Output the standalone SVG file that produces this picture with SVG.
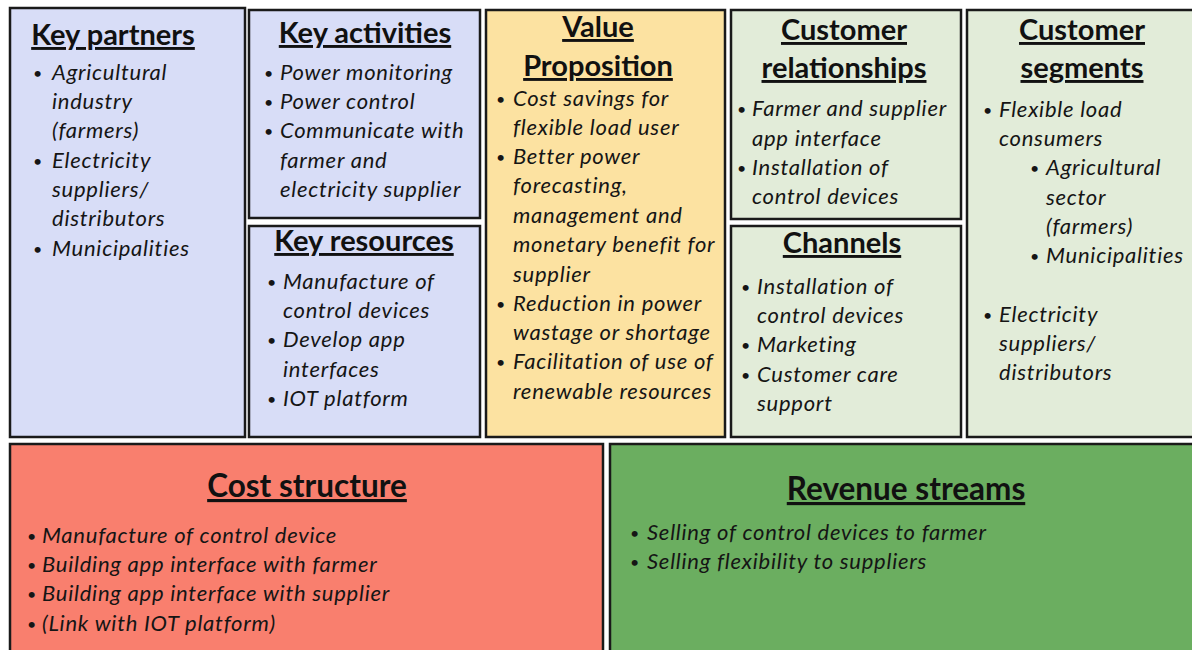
<svg xmlns="http://www.w3.org/2000/svg" width="1192" height="650" viewBox="0 0 1192 650">
  <style>
    .box { stroke: #1a1a1a; stroke-width: 2.5; }
    .blue { fill: #d8ddf7; }
    .yellow { fill: #fce2a1; }
    .lgreen { fill: #e2ecd9; }
    .red { fill: #f97f6e; }
    .green { fill: #6bae60; }
    .title { font-family: Lato, "Liberation Sans", sans-serif; font-weight: bold; font-size: 29px; fill: #111; text-anchor: middle; text-decoration: underline; }
    .big { font-size: 31.5px; }
    .item { font-family: Lato, "Liberation Sans", sans-serif; font-style: italic; font-size: 22px; letter-spacing: 0.75px; fill: #151515; }
    .dot { font-family: Lato, "Liberation Sans", sans-serif; font-size: 16px; fill: #151515; }
  </style>
  <rect width="1192" height="650" fill="#ffffff"/>

  <g id="key-partners">
    <rect class="box blue" x="10" y="8" width="235" height="429"/>
    <text class="title" x="113" y="45">Key partners</text>
    <text class="dot" x="33" y="79">•</text>
    <text class="item" x="52" y="80">Agricultural</text>
    <text class="item" x="52" y="109">industry</text>
    <text class="item" x="52" y="138">(farmers)</text>
    <text class="dot" x="33" y="167">•</text>
    <text class="item" x="52" y="168">Electricity</text>
    <text class="item" x="52" y="197">suppliers/</text>
    <text class="item" x="52" y="226">distributors</text>
    <text class="dot" x="33" y="255">•</text>
    <text class="item" x="52" y="256">Municipalities</text>
  </g>

  <g id="key-activities">
    <rect class="box blue" x="249" y="10" width="231" height="208"/>
    <text class="title" x="365" y="43">Key activities</text>
    <text class="dot" x="264" y="79">•</text>
    <text class="item" x="280" y="80">Power monitoring</text>
    <text class="dot" x="264" y="108">•</text>
    <text class="item" x="280" y="109">Power control</text>
    <text class="dot" x="264" y="137">•</text>
    <text class="item" x="280" y="138">Communicate with</text>
    <text class="item" x="280" y="168">farmer and</text>
    <text class="item" x="280" y="197">electricity supplier</text>
  </g>

  <g id="key-resources">
    <rect class="box blue" x="249" y="226" width="231" height="211"/>
    <text class="title" x="364" y="251">Key resources</text>
    <text class="dot" x="267" y="288">•</text>
    <text class="item" x="283" y="289">Manufacture of</text>
    <text class="item" x="283" y="318">control devices</text>
    <text class="dot" x="267" y="346">•</text>
    <text class="item" x="283" y="347">Develop app</text>
    <text class="item" x="283" y="377">interfaces</text>
    <text class="dot" x="267" y="405">•</text>
    <text class="item" x="283" y="406">IOT platform</text>
  </g>

  <g id="value-proposition">
    <rect class="box yellow" x="486" y="10" width="239" height="427"/>
    <text class="title" x="598" y="37">Value</text>
    <text class="title" x="598" y="76">Proposition</text>
    <text class="dot" x="496" y="105">•</text>
    <text class="item" x="513" y="106">Cost savings for</text>
    <text class="item" x="513" y="135">flexible load user</text>
    <text class="dot" x="496" y="163">•</text>
    <text class="item" x="513" y="164">Better power</text>
    <text class="item" x="513" y="193">forecasting,</text>
    <text class="item" x="513" y="223">management and</text>
    <text class="item" x="513" y="252">monetary benefit for</text>
    <text class="item" x="513" y="282">supplier</text>
    <text class="dot" x="496" y="310">•</text>
    <text class="item" x="513" y="311">Reduction in power</text>
    <text class="item" x="513" y="340">wastage or shortage</text>
    <text class="dot" x="496" y="368">•</text>
    <text class="item" x="513" y="369">Facilitation of use of</text>
    <text class="item" x="513" y="399">renewable resources</text>
  </g>

  <g id="customer-relationships">
    <rect class="box lgreen" x="731" y="10" width="230" height="209"/>
    <text class="title" x="844" y="40">Customer</text>
    <text class="title" x="844" y="78">relationships</text>
    <text class="dot" x="737" y="115">•</text>
    <text class="item" x="752" y="116">Farmer and supplier</text>
    <text class="item" x="752" y="146">app interface</text>
    <text class="dot" x="737" y="174">•</text>
    <text class="item" x="752" y="175">Installation of</text>
    <text class="item" x="752" y="204">control devices</text>
  </g>

  <g id="channels">
    <rect class="box lgreen" x="731" y="226" width="230" height="211"/>
    <text class="title" x="842" y="253">Channels</text>
    <text class="dot" x="741" y="293">•</text>
    <text class="item" x="757" y="294">Installation of</text>
    <text class="item" x="757" y="323">control devices</text>
    <text class="dot" x="741" y="351">•</text>
    <text class="item" x="757" y="352">Marketing</text>
    <text class="dot" x="741" y="381">•</text>
    <text class="item" x="757" y="382">Customer care</text>
    <text class="item" x="757" y="411">support</text>
  </g>

  <g id="customer-segments">
    <rect class="box lgreen" x="967" y="10" width="230" height="427"/>
    <text class="title" x="1082" y="40">Customer</text>
    <text class="title" x="1082" y="78">segments</text>
    <text class="dot" x="983" y="116">•</text>
    <text class="item" x="999" y="117">Flexible load</text>
    <text class="item" x="999" y="146">consumers</text>
    <text class="dot" x="1030" y="174">•</text>
    <text class="item" x="1046" y="175">Agricultural</text>
    <text class="item" x="1046" y="205">sector</text>
    <text class="item" x="1046" y="234">(farmers)</text>
    <text class="dot" x="1030" y="262">•</text>
    <text class="item" x="1046" y="263">Municipalities</text>
    <text class="dot" x="983" y="321">•</text>
    <text class="item" x="999" y="322">Electricity</text>
    <text class="item" x="999" y="351">suppliers/</text>
    <text class="item" x="999" y="380">distributors</text>
  </g>

  <g id="cost-structure">
    <rect class="box red" x="10" y="444" width="593" height="210"/>
    <text class="title big" x="307" y="497">Cost structure</text>
    <text class="dot" x="27" y="542">•</text>
    <text class="item" x="42" y="543">Manufacture of control device</text>
    <text class="dot" x="27" y="571">•</text>
    <text class="item" x="42" y="572">Building app interface with farmer</text>
    <text class="dot" x="27" y="600">•</text>
    <text class="item" x="42" y="601">Building app interface with supplier</text>
    <text class="dot" x="27" y="630">•</text>
    <text class="item" x="42" y="631">(Link with IOT platform)</text>
  </g>

  <g id="revenue-streams">
    <rect class="box green" x="610" y="444" width="590" height="210"/>
    <text class="title big" x="906" y="500">Revenue streams</text>
    <text class="dot" x="630" y="539">•</text>
    <text class="item" x="647" y="540">Selling of control devices to farmer</text>
    <text class="dot" x="630" y="568">•</text>
    <text class="item" x="647" y="569">Selling flexibility to suppliers</text>
  </g>

  <g id="connectors"/>
</svg>
